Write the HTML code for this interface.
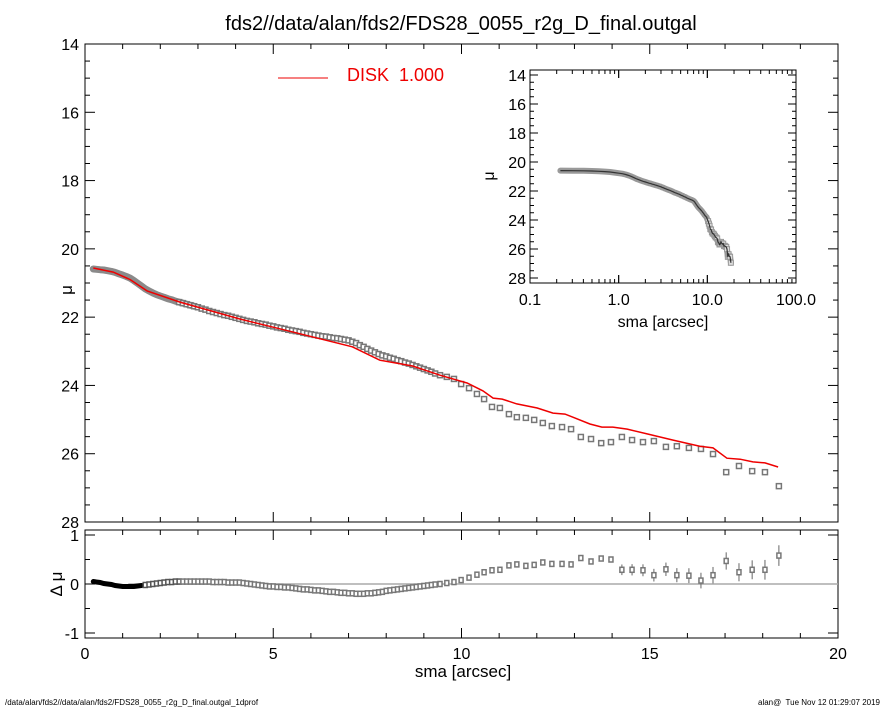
<!DOCTYPE html>
<html><head><meta charset="utf-8"><style>
body{margin:0;background:#fff;}
svg{display:block;font-family:"Liberation Sans",sans-serif;}
</style></head><body>
<svg id="c" width="885" height="708" viewBox="0 0 885 708">
<text x="461" y="30" font-size="20" text-anchor="middle">fds2//data/alan/fds2/FDS28_0055_r2g_D_final.outgal</text>
<g id="main"></g>
<g id="resid"></g>
<g id="inset"></g>
<line x1="278" y1="78" x2="328" y2="78" stroke="#e00" stroke-width="1"/>
<text x="347" y="81" font-size="18" fill="#e00" xml:space="preserve">DISK  1.000</text>
<text x="72" y="290" font-size="17" text-anchor="middle" transform="rotate(-90 72 290)">μ</text>
<text x="62" y="584" font-size="17" text-anchor="middle" transform="rotate(-90 62 584)">Δ μ</text>
<text x="463" y="677" font-size="17" text-anchor="middle">sma [arcsec]</text>
<text x="5" y="705" font-size="8">/data/alan/fds2//data/alan/fds2/FDS28_0055_r2g_D_final.outgal_1dprof</text>
<text x="880" y="705" font-size="8" text-anchor="end" xml:space="preserve">alan@  Tue Nov 12 01:29:07 2019</text>
</svg>
<script>
const sma=[0.22,0.3,0.4,0.5,0.6,0.7,0.8,0.9,1.0,1.1,1.2,1.3,1.4,1.5,1.6,1.7,1.8,1.9,2.0,2.1,2.2,2.3,2.4,2.5,2.6,2.7,2.8,2.9,3.0,3.1,3.2,3.3,3.4,3.5,3.6,3.7,3.8,3.9,4.0,4.1,4.2,4.3,4.4,4.5,4.6,4.7,4.8,4.9,5.0,5.1,5.2,5.3,5.4,5.5,5.6,5.7,5.8,5.9,6.0,6.1,6.2,6.3,6.4,6.5,6.6,6.7,6.8,6.9,7.0,7.1,7.2,7.3,7.4,7.5,7.6,7.7,7.8,7.9,8.0,8.1,8.2,8.3,8.4,8.5,8.6,8.7,8.8,8.9,9.0,9.1,9.2,9.3,
9.43,9.61,9.80,9.99,10.20,10.41,10.60,10.81,11.02,11.26,11.47,11.71,11.93,12.16,12.40,12.67,12.91,13.17,13.44,13.71,13.97,14.26,14.53,14.82,15.11,15.43,15.72,16.04,16.36,16.68,17.03,17.37,17.72,18.06,18.43];
const mu=[20.59,20.60,20.61,20.62,20.64,20.66,20.69,20.73,20.77,20.81,20.86,20.93,21.01,21.09,21.17,21.23,21.29,21.34,21.38,21.42,21.46,21.49,21.53,21.56,21.59,21.62,21.65,21.68,21.71,21.75,21.78,21.82,21.85,21.88,21.91,21.94,21.96,21.99,22.02,22.05,22.08,22.11,22.13,22.15,22.18,22.20,22.22,22.25,22.27,22.30,22.32,22.34,22.37,22.39,22.41,22.43,22.46,22.48,22.50,22.52,22.54,22.56,22.57,22.59,22.61,22.62,22.64,22.66,22.68,22.72,22.76,22.82,22.87,22.93,22.98,23.03,23.08,23.12,23.15,23.19,23.22,23.26,23.29,23.33,23.36,23.40,23.44,23.48,23.52,23.56,23.60,23.65,
23.70,23.75,23.81,23.96,24.08,24.25,24.40,24.63,24.66,24.84,24.93,24.95,25.01,25.10,25.19,25.22,25.28,25.51,25.57,25.69,25.66,25.51,25.60,25.66,25.63,25.80,25.78,25.83,25.86,26.01,26.54,26.36,26.51,26.54,26.95];
const dmu=[0.05,0.04,0.03,0.01,0,-0.01,-0.03,-0.04,-0.05,-0.05,-0.05,-0.05,-0.04,-0.03,-0.02,-0.01,0,0.01,0.02,0.03,0.04,0.04,0.05,0.05,0.05,0.05,0.05,0.05,0.05,0.05,0.05,0.05,0.04,0.04,0.04,0.04,0.03,0.03,0.03,0.03,0.02,0.01,0,-0.01,-0.02,-0.03,-0.04,-0.05,-0.05,-0.06,-0.06,-0.07,-0.07,-0.08,-0.09,-0.1,-0.11,-0.11,-0.12,-0.13,-0.13,-0.14,-0.15,-0.16,-0.16,-0.17,-0.18,-0.18,-0.19,-0.19,-0.2,-0.2,-0.2,-0.19,-0.19,-0.18,-0.17,-0.16,-0.14,-0.13,-0.12,-0.11,-0.1,-0.09,-0.08,-0.07,-0.06,-0.05,-0.04,-0.03,-0.02,-0.01,
0,0.02,0.04,0.08,0.13,0.19,0.24,0.28,0.29,0.38,0.40,0.37,0.39,0.44,0.41,0.41,0.40,0.53,0.46,0.52,0.50,0.29,0.29,0.28,0.18,0.30,0.18,0.17,0.07,0.18,0.47,0.24,0.29,0.29,0.58];
const modelSma=[0.22,0.75,1.2,1.65,2.52,4.1,5.5,7.1,7.83,8.7,9.43,10.15,10.57,10.84,11.08,11.47,12.01,12.43,12.75,12.96,13.41,13.73,14.02,14.40,14.93,15.62,16.33,16.68,17.05,17.40,17.74,18.06,18.41];
const modelMu=[20.56,20.68,20.9,21.23,21.56,22.05,22.43,22.87,23.26,23.43,23.70,23.93,24.16,24.37,24.40,24.54,24.66,24.81,24.84,24.93,25.13,25.22,25.22,25.28,25.42,25.60,25.78,25.83,26.13,26.16,26.24,26.27,26.39];
const xTicks=[0,5,10,15,20];
const yTicks=[14,16,18,20,22,24,26,28];
const rTicks=[1,0,-1];
const insetXTicks=[0.1,1,10,100];
const insetXLabels=["0.1","1.0","10.0","100.0"];

const NS="http://www.w3.org/2000/svg";
function mk(parent,tag,attrs,txt){const e=document.createElementNS(NS,tag);for(const k in attrs)e.setAttribute(k,attrs[k]);if(txt!==undefined)e.textContent=txt;parent.appendChild(e);return e;}
const L=85,R=838,T=44,B=522,RT=530,RB=638;
const X=v=>L+(v-0)/20*(R-L);
const Y=v=>T+(v-14)/14*(B-T);
const RY=v=>584-v*49;
const IL=530,IR=796,IT=70,IB=283;
const IX=v=>IL+(Math.log10(v)+1)/3*(IR-IL);
const IY=v=>75+(v-14)*14.5;

const main=document.getElementById('main'),resid=document.getElementById('resid'),inset=document.getElementById('inset');
let f=mk(main,'rect',{x:L,y:T,width:R-L,height:B-T,fill:'none',stroke:'#000','stroke-width':1});


f=mk(resid,'rect',{x:L,y:RT,width:R-L,height:RB-RT,fill:'none',stroke:'#000','stroke-width':1});


for(let v=0;v<=20;v+=1){const major=v%5===0;const len=major?10:5;const x=X(v);
 mk(main,'line',{x1:x,y1:B,x2:x,y2:B-len,stroke:'#000'});mk(main,'line',{x1:x,y1:T,x2:x,y2:T+len,stroke:'#000'});
 mk(resid,'line',{x1:x,y1:RB,x2:x,y2:RB-len,stroke:'#000'});mk(resid,'line',{x1:x,y1:RT,x2:x,y2:RT+len,stroke:'#000'});}
xTicks.forEach(v=>{const t=mk(resid,'text',{x:X(v),y:659,'font-size':16,'text-anchor':'middle'},String(v));
 
 });
for(let v=14;v<=28;v+=0.5){const major=v%2===0;const len=major?10:5;const y=Y(v);
 mk(main,'line',{x1:L,y1:y,x2:L+len,y2:y,stroke:'#000'});mk(main,'line',{x1:R,y1:y,x2:R-len,y2:y,stroke:'#000'});}
yTicks.forEach(v=>{const t=mk(main,'text',{x:L-6,y:Y(v)+6,'font-size':16,'text-anchor':'end'},String(v));
 
 });
for(let v=-1;v<=1.001;v+=0.5){const major=Math.abs(v%1)<1e-6;const len=major?10:5;const y=RY(v);
 mk(resid,'line',{x1:L,y1:y,x2:L+len,y2:y,stroke:'#000'});mk(resid,'line',{x1:R,y1:y,x2:R-len,y2:y,stroke:'#000'});}
rTicks.forEach(v=>{const t=mk(resid,'text',{x:L-6,y:RY(v)+6,'font-size':16,'text-anchor':'end'},String(v));
 
 });
let z=mk(resid,'line',{x1:X(1.15),y1:RY(0),x2:R,y2:RY(0),stroke:'#aaa','stroke-width':1.5});


// dense inner band (main)
const early=sma.map((s,i)=>i).filter(i=>sma[i]<3);
let bd=early.map((i,k)=>(k?'L':'M')+X(sma[i]).toFixed(1)+','+Y(mu[i]).toFixed(1)).join(' ');
let band=mk(main,'path',{d:bd,fill:'none',stroke:'#8a8a8a','stroke-width':7,'stroke-linejoin':'round','stroke-linecap':'round'});


sma.forEach((s,i)=>{if(s<2.5)return;const p=mk(main,'rect',{x:X(s)-2.5,y:Y(mu[i])-2.5,width:5,height:5,fill:'#fff',stroke:'#777','stroke-width':1.5});
 
 });
let d=modelSma.map((s,i)=>(i?'L':'M')+X(s).toFixed(1)+','+Y(modelMu[i]).toFixed(1)).join(' ');
let ml=mk(main,'path',{d:d,fill:'none',stroke:'#e00','stroke-width':1.5});


// residual dense band
const rEarly=sma.map((s,i)=>i).filter(i=>sma[i]<1.6);
let rd=rEarly.map((i,k)=>(k?'L':'M')+X(sma[i]).toFixed(1)+','+RY(dmu[i]).toFixed(1)).join(' ');
let rb=mk(resid,'path',{d:rd,fill:'none',stroke:'#000','stroke-width':5,'stroke-linecap':'round'});


sma.forEach((s,i)=>{if(s<1.6)return;const y=RY(dmu[i]);
 if(s>14){mk(resid,'line',{x1:X(s),y1:y-5-(s-14)*1.2,x2:X(s),y2:y+5+(s-14)*1.2,stroke:'#666'});}
 const gray=s<2.6?'#555':'#777';
 const p=mk(resid,'rect',{x:X(s)-2,y:y-2.5,width:4,height:5,fill:'#fff',stroke:gray,'stroke-width':1.5});
 
 });
// inset
f=mk(inset,'rect',{x:IL,y:IT,width:IR-IL,height:IB-IT,fill:'none',stroke:'#000'});


for(let dec=-1;dec<2;dec++){for(let k=1;k<=10;k++){const v=k*Math.pow(10,dec);const x=IX(v);const len=(k===1||k===10)?8:4;
 mk(inset,'line',{x1:x,y1:IB,x2:x,y2:IB-len,stroke:'#000'});mk(inset,'line',{x1:x,y1:IT,x2:x,y2:IT+len,stroke:'#000'});}}
insetXTicks.forEach((v,i)=>{const t=mk(inset,'text',{x:IX(v),y:305,'font-size':16,'text-anchor':'middle'},insetXLabels[i]);
 
 });
for(let v=14;v<=28;v+=0.5){const major=v%2===0;const len=major?8:4;const y=IY(v);
 mk(inset,'line',{x1:IL,y1:y,x2:IL+len,y2:y,stroke:'#000'});mk(inset,'line',{x1:IR,y1:y,x2:IR-len,y2:y,stroke:'#000'});}
yTicks.forEach(v=>{const t=mk(inset,'text',{x:IL-4,y:IY(v)+6,'font-size':16,'text-anchor':'end'},String(v));
 
 });
let t=mk(inset,'text',{x:663,y:327,'font-size':16,'text-anchor':'middle'},'sma [arcsec]');


t=mk(inset,'text',{x:494,y:176,'font-size':16,'text-anchor':'middle',transform:'rotate(-90 494 176)'},'μ');


d=sma.map((s,i)=>(i?'L':'M')+IX(s).toFixed(1)+','+IY(mu[i]).toFixed(1)).join(' ');
let ib=mk(inset,'path',{d:d,fill:'none',stroke:'#999','stroke-width':6,'stroke-linejoin':'round','stroke-linecap':'round'});


sma.forEach((s,i)=>{if(s<10)return;const p=mk(inset,'rect',{x:IX(s)-2.5,y:IY(mu[i])-2.5,width:5,height:5,fill:'#ddd',stroke:'#999','stroke-width':1});
 
 });
let il=mk(inset,'path',{d:d,fill:'none',stroke:'#333','stroke-width':1.2});


</script>
</body></html>
